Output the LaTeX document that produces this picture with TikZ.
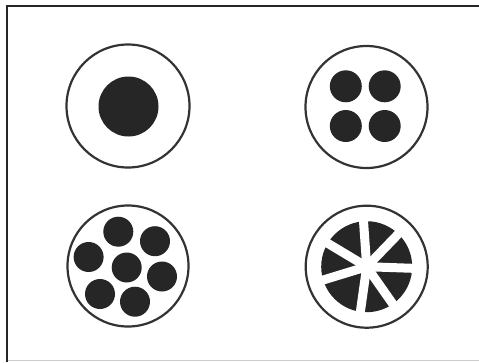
\documentclass[tikz,border=0pt]{standalone}
\usepackage{tikz}

\begin{document}
\begin{tikzpicture}[x=1pt, y=-1pt]
\path[use as bounding box] (0,0) rectangle (479,362);
% frame
\draw[black!20, line width=1.2pt] (7,360.5) -- (479,360.5);
\draw[black!85, line width=2pt] (7,362) -- (7,6) -- (479,6);
% one big core
\draw[black!80, line width=2.2pt] (128,106) circle (61.5);
\fill[black!85] (128.5,106.5) circle (30);
% four cores
\draw[black!80, line width=2.2pt] (366.5,107) circle (61);
\fill[black!85] (345.8,86.3) circle (16);
\fill[black!85] (384.7,86.3) circle (16);
\fill[black!85] (345.8,126) circle (16);
\fill[black!85] (384.7,126) circle (16);
% seven cores
\draw[black!80, line width=2.2pt] (128,266) circle (60.5);
\fill[black!85] (126.7,267.5) circle (15);
\fill[black!85] (118.3,231.7) circle (15);
\fill[black!85] (155,241.2) circle (15);
\fill[black!85] (162,276.5) circle (15);
\fill[black!85] (135,301.7) circle (15);
\fill[black!85] (100,294) circle (15);
\fill[black!85] (88.6,257) circle (15);
% sector core
\draw[black!80, line width=2.2pt] (366.7,266.7) circle (61);
\fill[black!85] (366.7,266.7) circle (45.5);
\draw[white, line width=9pt] (366.7,266.7) -- ++(2:48);
\draw[white, line width=9pt] (366.7,266.7) -- ++(-46:48);
\draw[white, line width=9pt] (366.7,266.7) -- ++(-94:48);
\draw[white, line width=9pt] (366.7,266.7) -- ++(-149:48);
\draw[white, line width=9pt] (366.7,266.7) -- ++(-197:48);
\draw[white, line width=9pt] (366.7,266.7) -- ++(-262:48);
\draw[white, line width=9pt] (366.7,266.7) -- ++(-305:48);
\fill[white] (366.7,266.7) circle (8);
\end{tikzpicture}
\end{document}
